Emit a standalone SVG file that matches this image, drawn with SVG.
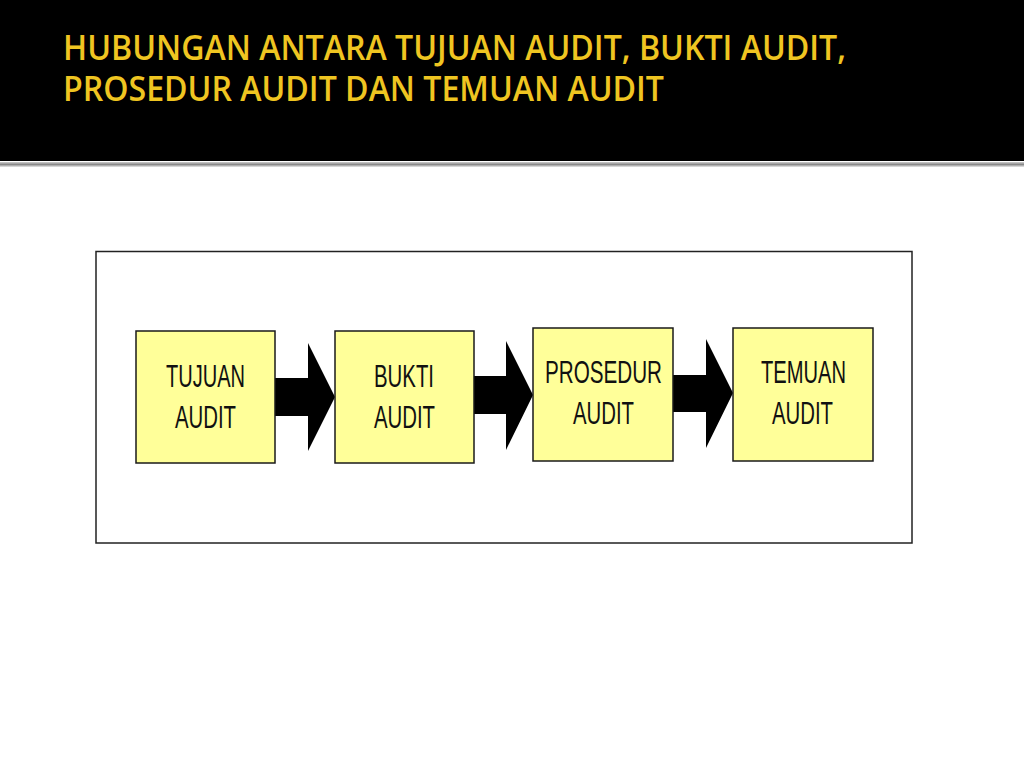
<svg xmlns="http://www.w3.org/2000/svg" width="1024" height="768" viewBox="0 0 1024 768">
<defs>
<style>
.title{font-family:"Open Sans","Liberation Sans",sans-serif;font-size:34px;font-weight:600;fill:#EFC521;}
.box{fill:#FFFF99;stroke:#1a1a1a;stroke-width:1.5;}
.lbl{font-family:"Liberation Sans",Arial,sans-serif;font-size:32px;fill:#111;}
.arrow{fill:#000;}
</style>
<linearGradient id="sep" x1="0" y1="0" x2="0" y2="1">
<stop offset="0" stop-color="#cfcfcf"/>
<stop offset="0.5" stop-color="#8a8a8a"/>
<stop offset="1" stop-color="#e8e8e8"/>
</linearGradient>
</defs>
<rect x="0" y="0" width="1024" height="768" fill="#fff"/>
<g id="header">
<rect x="0" y="0" width="1024" height="161" fill="#000"/>
<rect x="0" y="162" width="1024" height="5" fill="url(#sep)"/>
<text class="title" x="63" y="60" textLength="783" lengthAdjust="spacingAndGlyphs">HUBUNGAN ANTARA TUJUAN AUDIT, BUKTI AUDIT,</text>
<text class="title" x="63" y="101" textLength="601" lengthAdjust="spacingAndGlyphs">PROSEDUR AUDIT DAN TEMUAN AUDIT</text>
</g>
<g id="frame">
<rect x="96" y="251.5" width="816" height="291.5" fill="#fff" stroke="#222" stroke-width="1.5"/>
</g>
<g id="connectors">
<polygon class="arrow" points="275,378 308,378 308,343 335,397 308,451 308,416 275,416"/>
<polygon class="arrow" points="474,376 506,376 506,341 533,395 506,450 506,414 474,414"/>
<polygon class="arrow" points="673,375 706,375 706,339 733,393 706,448 706,412 673,412"/>
</g>
<g id="node-tujuan">
<rect class="box" x="136" y="331" width="139" height="132"/>
<text class="lbl" x="166" y="387" textLength="79" lengthAdjust="spacingAndGlyphs">TUJUAN</text>
<text class="lbl" x="175" y="428" textLength="61" lengthAdjust="spacingAndGlyphs">AUDIT</text>
</g>
<g id="node-bukti">
<rect class="box" x="335" y="331" width="139" height="132"/>
<text class="lbl" x="374" y="387" textLength="60" lengthAdjust="spacingAndGlyphs">BUKTI</text>
<text class="lbl" x="374" y="428" textLength="61" lengthAdjust="spacingAndGlyphs">AUDIT</text>
</g>
<g id="node-prosedur">
<rect class="box" x="533" y="328" width="140" height="133"/>
<text class="lbl" x="545" y="383" textLength="117" lengthAdjust="spacingAndGlyphs">PROSEDUR</text>
<text class="lbl" x="573" y="424" textLength="61" lengthAdjust="spacingAndGlyphs">AUDIT</text>
</g>
<g id="node-temuan">
<rect class="box" x="733" y="328" width="140" height="133"/>
<text class="lbl" x="761" y="383" textLength="85" lengthAdjust="spacingAndGlyphs">TEMUAN</text>
<text class="lbl" x="772" y="424" textLength="61" lengthAdjust="spacingAndGlyphs">AUDIT</text>
</g>
</svg>
